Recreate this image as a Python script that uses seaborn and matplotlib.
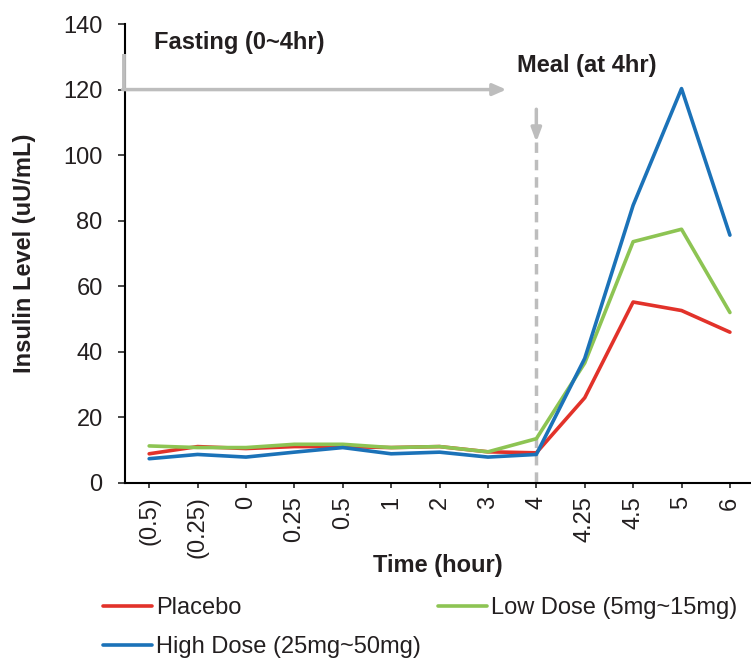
import seaborn as sns
import matplotlib.pyplot as plt
import pandas as pd

# Data
time_labels = ['(0.5)', '(0.25)', '0', '0.25', '0.5', '1', '2', '3', '4',
               '4.25', '4.5', '5', '6']
placebo = [8.9, 11.1, 10.5, 11.1, 11.1, 10.8, 11.1, 9.5, 9.2, 26.0, 55.2, 52.6, 46.0]
low_dose = [11.3, 10.8, 10.8, 11.8, 11.8, 10.8, 11.1, 9.5, 13.5, 36.6, 73.6, 77.4, 52.0]
high_dose = [7.4, 8.7, 7.9, 9.4, 10.8, 8.9, 9.4, 7.9, 8.7, 38.0, 84.7, 120.3, 75.6]

series_names = ['Placebo', 'Low Dose (5mg~15mg)', 'High Dose (25mg~50mg)']
colors = ['#E2322A', '#8DC453', '#1B72B8']

df = pd.DataFrame({
    'Time': time_labels * 3,
    'Insulin': placebo + low_dose + high_dose,
    'Group': [series_names[0]] * 13 + [series_names[1]] * 13 + [series_names[2]] * 13,
})

sns.set_style('ticks')
plt.rcParams['font.family'] = ['Liberation Sans', 'DejaVu Sans']
text_color = '#231F20'
arrow_gray = '#BDBDBD'
fs = 17

fig = plt.figure(figsize=(7.51, 6.58), dpi=100)
ax = fig.add_axes([0.1664, 0.266, 0.8326, 0.6975])

sns.lineplot(data=df, x='Time', y='Insulin', hue='Group', palette=colors,
             sort=False, linewidth=2.6, ax=ax, legend=False)

ax.set_xlim(-0.5, 12.42)
ax.set_ylim(0, 140)
ax.set_yticks(range(0, 141, 20))
ax.set_xticks(range(len(time_labels)))
ax.set_xticklabels(time_labels, rotation=90, fontsize=fs, color=text_color)
ax.tick_params(axis='y', labelsize=fs, labelcolor=text_color, length=5,
               width=1.2, pad=11)
ax.tick_params(axis='x', length=3.6, width=1.2, pad=6)
for s in ['top', 'right']:
    ax.spines[s].set_visible(False)
for s in ['left', 'bottom']:
    ax.spines[s].set_linewidth(1.5)
    ax.spines[s].set_color('black')

ax.set_ylabel('Insulin Level (uU/mL)', fontsize=fs, fontweight='bold',
              color=text_color, labelpad=20)
ax.set_xlabel('Time (hour)', fontsize=fs, fontweight='bold', color=text_color,
              labelpad=-3)

# Fasting annotation
ax.plot([-0.52, -0.52], [131, 120], color=arrow_gray, lw=2.8,
        solid_capstyle='butt', clip_on=False, zorder=5)
ax.annotate('', xy=(7.38, 120), xytext=(-0.55, 120),
            arrowprops=dict(arrowstyle='-|>,head_length=0.8,head_width=0.35',
                            color=arrow_gray, lw=2.5, shrinkA=0, shrinkB=0),
            annotation_clip=False, zorder=5)
ax.text(0.1, 134.4, 'Fasting (0~4hr)', fontsize=fs, fontweight='bold',
        color=text_color, va='center', ha='left')

# Meal annotation
ax.annotate('', xy=(8, 104), xytext=(8, 114),
            arrowprops=dict(arrowstyle='-|>,head_length=0.8,head_width=0.3',
                            color=arrow_gray, lw=2.5, shrinkA=0, shrinkB=0))
ax.plot([8, 8], [104, -1], color=arrow_gray, lw=2.5, ls=(0, (3, 2)), zorder=1,
        clip_on=False)
ax.text(7.6, 127.4, 'Meal (at 4hr)', fontsize=fs, fontweight='bold',
        color=text_color, va='center', ha='left')

handles = [plt.Line2D([], [], color=c, lw=2.6) for c in colors]
order = [0, 2, 1]
fig.legend([handles[i] for i in order], [series_names[i] for i in order],
           ncol=2, loc='upper left', bbox_to_anchor=(0.137, 0.092),
           frameon=False, fontsize=fs, handlelength=2.07, handletextpad=0.2,
           columnspacing=0.7, labelspacing=0.71, borderpad=0, borderaxespad=0,
           labelcolor=text_color)

fig.savefig('out.png', dpi=100)
